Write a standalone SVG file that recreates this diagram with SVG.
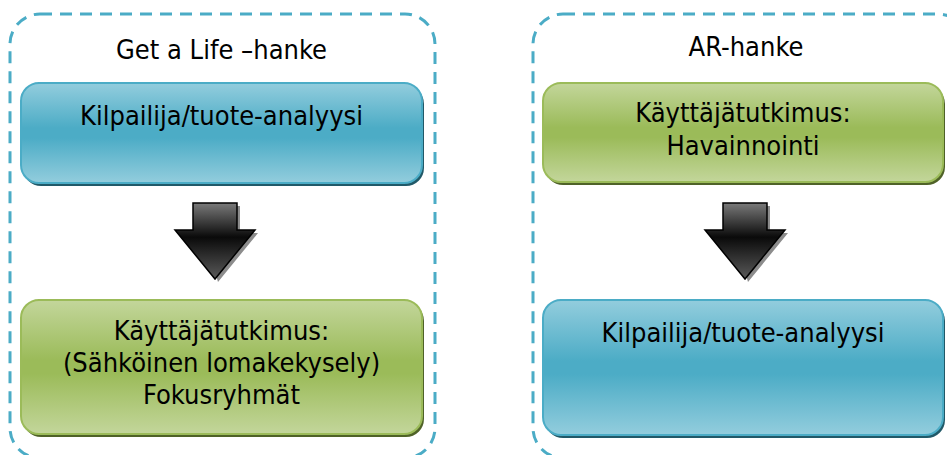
<svg xmlns="http://www.w3.org/2000/svg" width="947" height="455" viewBox="0 0 947 455">
<defs>
<linearGradient id="gBlue" x1="0" y1="0" x2="0" y2="1">
<stop offset="0" stop-color="#93cddd"/>
<stop offset="0.45" stop-color="#4cacc6"/>
<stop offset="0.55" stop-color="#4cacc6"/>
<stop offset="1" stop-color="#93cddd"/>
</linearGradient>
<linearGradient id="gGreen" x1="0" y1="0" x2="0" y2="1">
<stop offset="0" stop-color="#c3d69b"/>
<stop offset="0.45" stop-color="#9bbb59"/>
<stop offset="0.55" stop-color="#9bbb59"/>
<stop offset="1" stop-color="#c3d69b"/>
</linearGradient>
<linearGradient id="gArrow" x1="0" y1="0" x2="0" y2="1">
<stop offset="0" stop-color="#7a7a7a"/>
<stop offset="0.45" stop-color="#0a0a0a"/>
<stop offset="1" stop-color="#5a5a5a"/>
</linearGradient>
</defs>
<style>
.cont{fill:none;stroke:#4bacc6;stroke-width:3;stroke-dasharray:12 8}
.txt{font-family:"DejaVu Sans Condensed","DejaVu Sans","Liberation Sans",sans-serif;font-size:27px;fill:#000;text-anchor:middle}
.blue{fill:url(#gBlue);stroke:#4bacc6;stroke-width:2}
.green{fill:url(#gGreen);stroke:#9bbb59;stroke-width:2}
.bsh{fill:#215968}
.gsh{fill:#4f6228}
.arrow{fill:url(#gArrow);stroke:#000;stroke-width:1.5;stroke-linejoin:miter}
.ash{fill:#8c8c8c}
</style>
<rect width="947" height="455" fill="#fff"/>
<g id="container-left">
<rect class="cont" x="10" y="14" width="425" height="444" rx="30"/>
<text class="txt" x="221.5" y="59">Get a Life –hanke</text>
</g>
<g id="container-right">
<rect class="cont" x="533" y="14" width="435" height="444" rx="30"/>
<text class="txt" x="746" y="56">AR-hanke</text>
</g>
<g id="node-left-1">
<rect class="bsh" x="23" y="86" width="401" height="100" rx="18"/>
<rect class="blue" x="21" y="83" width="401" height="100" rx="18"/>
<text class="txt" x="221.5" y="125">Kilpailija/tuote-analyysi</text>
</g>
<g id="node-left-2">
<rect class="gsh" x="23" y="303" width="401" height="134" rx="18"/>
<rect class="green" x="21" y="300" width="401" height="134" rx="18"/>
<text class="txt" x="221.5" y="340">Käyttäjätutkimus:</text>
<text class="txt" x="221.5" y="372">(Sähköinen lomakekysely)</text>
<text class="txt" x="221.5" y="404">Fokusryhmät</text>
</g>
<g id="node-right-1">
<rect class="gsh" x="545" y="86" width="400" height="99" rx="18"/>
<rect class="green" x="543" y="83" width="400" height="99" rx="18"/>
<text class="txt" x="743" y="122">Käyttäjätutkimus:</text>
<text class="txt" x="743" y="155">Havainnointi</text>
</g>
<g id="node-right-2">
<rect class="bsh" x="545" y="303" width="400" height="135" rx="18"/>
<rect class="blue" x="543" y="300" width="400" height="135" rx="18"/>
<text class="txt" x="743" y="342">Kilpailija/tuote-analyysi</text>
</g>
<g id="connectors">
<polygon class="ash" points="196,206 240,206 240,233 258,233 218,282"/>
<polygon class="arrow" points="193,203 237,203 237,230 255,230 215,279 175,230 193,230"/>
<polygon class="ash" points="726,206 770,206 770,233 788,233 748,282"/>
<polygon class="arrow" points="723,203 767,203 767,230 785,230 745,279 705,230 723,230"/>
</g>
</svg>
